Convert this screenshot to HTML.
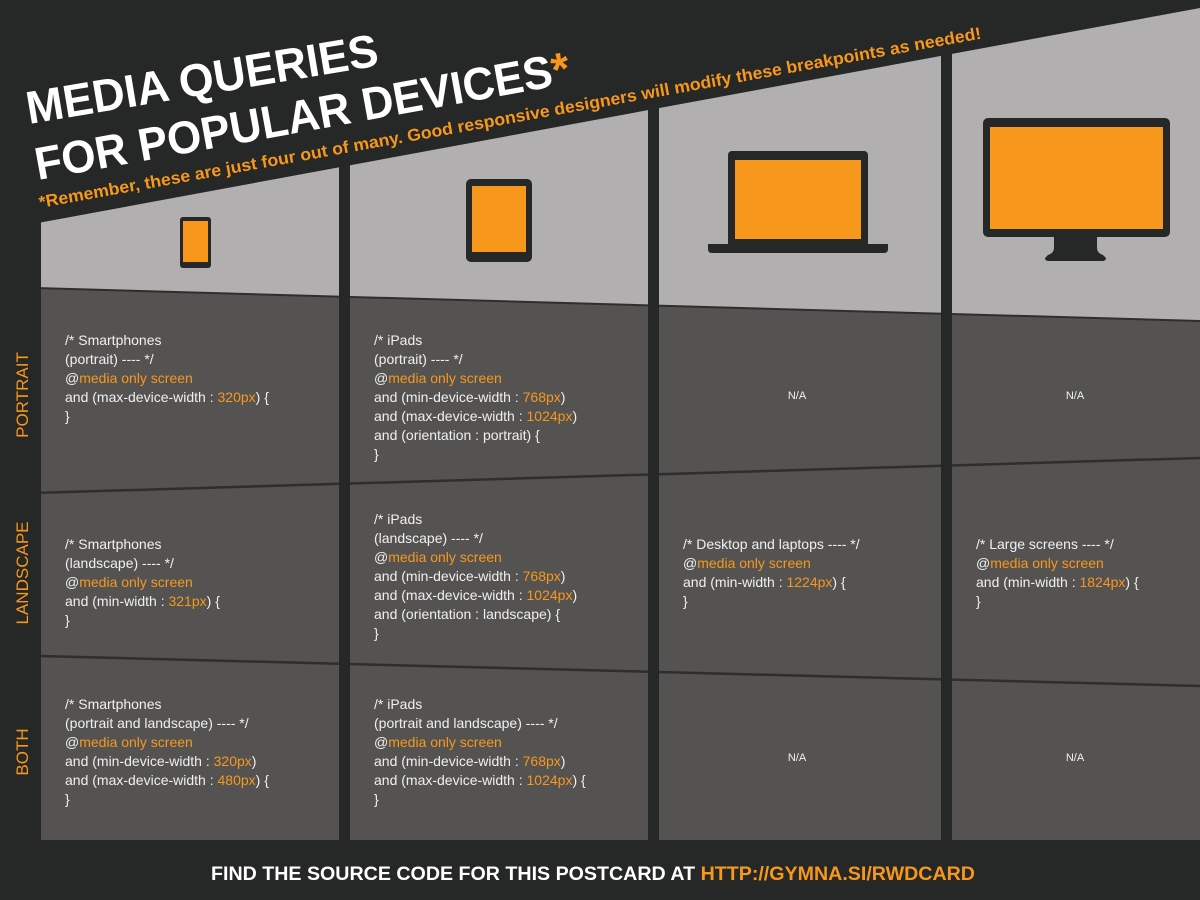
<!DOCTYPE html>
<html><head><meta charset="utf-8"><style>
html,body{margin:0;padding:0;background:#262727;}
svg{display:block;}
.c{font-family:"Liberation Sans",sans-serif;font-size:14px;fill:#f0f0f0;}
.o{fill:#f7981d;}
</style></head><body>
<svg width="1200" height="900" viewBox="0 0 1200 900" xmlns="http://www.w3.org/2000/svg">
<rect width="1200" height="900" fill="#262727"/>
<rect x="0" y="0" width="1200" height="840" fill="#b1afaf"/>
<polygon points="0,0 1200,0 1200,8 0,230" fill="#262727"/>
<polygon points="0,287 1200,321 1200,840 0,840" fill="#545352"/>
<line x1="0" y1="287" x2="1200" y2="321" stroke="#2e2e2e" stroke-width="2"/>
<line x1="0" y1="494" x2="1200" y2="458" stroke="#2e2e2e" stroke-width="2.5"/>
<line x1="0" y1="655" x2="1200" y2="686" stroke="#2e2e2e" stroke-width="2.5"/>
<rect x="0" y="0" width="41" height="900" fill="#262727"/>
<rect x="339" y="0" width="11" height="900" fill="#262727"/>
<rect x="648" y="0" width="11" height="900" fill="#262727"/>
<rect x="941" y="0" width="11" height="900" fill="#262727"/>
<rect x="0" y="840" width="1200" height="60" fill="#262727"/>

<!-- icons -->
<rect x="180" y="217" width="31" height="51" rx="3" fill="#262727"/>
<rect x="183" y="221" width="25" height="41" fill="#f7981d"/>
<rect x="466" y="179" width="66" height="83" rx="5" fill="#262727"/>
<rect x="472" y="186" width="54" height="66" fill="#f7981d"/>
<rect x="728" y="151" width="140" height="96" rx="4" fill="#262727"/>
<rect x="735" y="160" width="126" height="79" fill="#f7981d"/>
<path d="M708,244 H888 V249 Q888,253 884,253 H712 Q708,253 708,249 Z" fill="#262727"/>
<rect x="983" y="118" width="187" height="119" rx="5" fill="#262727"/>
<rect x="990" y="127" width="173" height="102" fill="#f7981d"/>
<path d="M1054,236 H1097 V248 Q1097,253 1103,255 L1106,258 Q1106,261 1102,261 H1049 Q1045,261 1045,258 L1048,255 Q1054,253 1054,248 Z" fill="#262727"/>

<!-- title -->
<g font-family="Liberation Sans,sans-serif" font-weight="bold">
<text transform="translate(29,124) rotate(-9.5)" font-size="46" fill="#fff" textLength="356" lengthAdjust="spacingAndGlyphs">MEDIA QUERIES</text>
<text transform="translate(38,180) rotate(-10.3)" font-size="46" fill="#fff"><tspan textLength="525" lengthAdjust="spacingAndGlyphs">FOR POPULAR DEVICES</tspan><tspan fill="#f7981d">*</tspan></text>
<text transform="translate(40,208) rotate(-10.2)" font-size="17" fill="#f7981d" textLength="957" lengthAdjust="spacingAndGlyphs">*Remember, these are just four out of many. Good responsive designers will modify these breakpoints as needed!</text>
</g>

<!-- side labels -->
<g font-family="Liberation Sans,sans-serif" font-size="17" fill="#f7981d" text-anchor="middle">
<text transform="translate(28,395) rotate(-90)">PORTRAIT</text>
<text transform="translate(28,573) rotate(-90)">LANDSCAPE</text>
<text transform="translate(28,752) rotate(-90)">BOTH</text>
</g>

<!-- col1 -->
<text class="c" x="65" y="345"><tspan x="65">/* Smartphones</tspan><tspan x="65" dy="19">(portrait) ---- */</tspan><tspan x="65" dy="19">@<tspan class="o">media only screen</tspan></tspan><tspan x="65" dy="19">and (max-device-width : <tspan class="o">320px</tspan>) {</tspan><tspan x="65" dy="19">}</tspan></text>
<text class="c" x="65" y="549"><tspan x="65">/* Smartphones</tspan><tspan x="65" dy="19">(landscape) ---- */</tspan><tspan x="65" dy="19">@<tspan class="o">media only screen</tspan></tspan><tspan x="65" dy="19">and (min-width : <tspan class="o">321px</tspan>) {</tspan><tspan x="65" dy="19">}</tspan></text>
<text class="c" x="65" y="709"><tspan x="65">/* Smartphones</tspan><tspan x="65" dy="19">(portrait and landscape) ---- */</tspan><tspan x="65" dy="19">@<tspan class="o">media only screen</tspan></tspan><tspan x="65" dy="19">and (min-device-width : <tspan class="o">320px</tspan>)</tspan><tspan x="65" dy="19">and (max-device-width : <tspan class="o">480px</tspan>) {</tspan><tspan x="65" dy="19">}</tspan></text>

<!-- col2 -->
<text class="c" x="374" y="345"><tspan x="374">/* iPads</tspan><tspan x="374" dy="19">(portrait) ---- */</tspan><tspan x="374" dy="19">@<tspan class="o">media only screen</tspan></tspan><tspan x="374" dy="19">and (min-device-width : <tspan class="o">768px</tspan>)</tspan><tspan x="374" dy="19">and (max-device-width : <tspan class="o">1024px</tspan>)</tspan><tspan x="374" dy="19">and (orientation : portrait) {</tspan><tspan x="374" dy="19">}</tspan></text>
<text class="c" x="374" y="524"><tspan x="374">/* iPads</tspan><tspan x="374" dy="19">(landscape) ---- */</tspan><tspan x="374" dy="19">@<tspan class="o">media only screen</tspan></tspan><tspan x="374" dy="19">and (min-device-width : <tspan class="o">768px</tspan>)</tspan><tspan x="374" dy="19">and (max-device-width : <tspan class="o">1024px</tspan>)</tspan><tspan x="374" dy="19">and (orientation : landscape) {</tspan><tspan x="374" dy="19">}</tspan></text>
<text class="c" x="374" y="709"><tspan x="374">/* iPads</tspan><tspan x="374" dy="19">(portrait and landscape) ---- */</tspan><tspan x="374" dy="19">@<tspan class="o">media only screen</tspan></tspan><tspan x="374" dy="19">and (min-device-width : <tspan class="o">768px</tspan>)</tspan><tspan x="374" dy="19">and (max-device-width : <tspan class="o">1024px</tspan>) {</tspan><tspan x="374" dy="19">}</tspan></text>

<!-- col3 -->
<text class="c" x="683" y="549"><tspan x="683">/* Desktop and laptops ---- */</tspan><tspan x="683" dy="19">@<tspan class="o">media only screen</tspan></tspan><tspan x="683" dy="19">and (min-width : <tspan class="o">1224px</tspan>) {</tspan><tspan x="683" dy="19">}</tspan></text>
<!-- col4 -->
<text class="c" x="976" y="549"><tspan x="976">/* Large screens ---- */</tspan><tspan x="976" dy="19">@<tspan class="o">media only screen</tspan></tspan><tspan x="976" dy="19">and (min-width : <tspan class="o">1824px</tspan>) {</tspan><tspan x="976" dy="19">}</tspan></text>

<g font-family="Liberation Sans,sans-serif" font-size="11" fill="#f0f0f0" text-anchor="middle">
<text x="797" y="399">N/A</text>
<text x="1075" y="399">N/A</text>
<text x="797" y="761">N/A</text>
<text x="1075" y="761">N/A</text>
</g>

<text x="211" y="880" font-family="Liberation Sans,sans-serif" font-weight="bold" font-size="19" fill="#fff" textLength="764" lengthAdjust="spacingAndGlyphs">FIND THE SOURCE CODE FOR THIS POSTCARD AT <tspan fill="#f7981d">HTTP://GYMNA.SI/RWDCARD</tspan></text>
</svg>
</body></html>
